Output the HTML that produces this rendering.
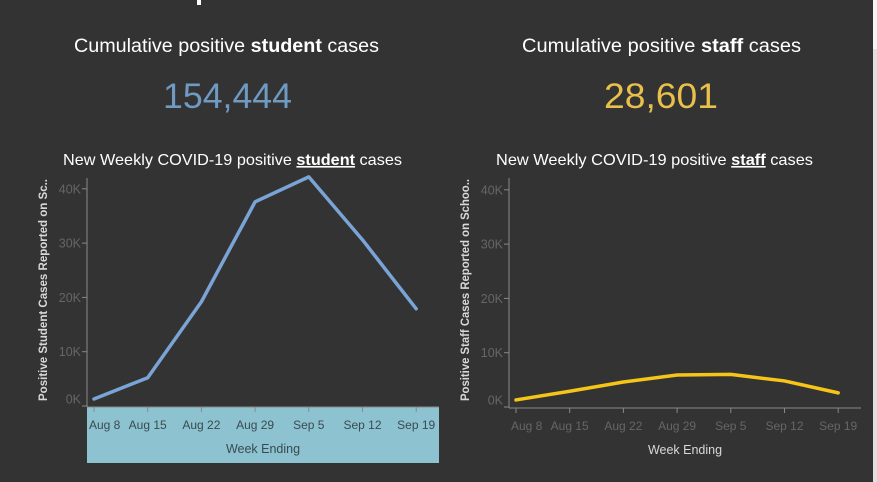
<!DOCTYPE html>
<html><head><meta charset="utf-8"><style>
html,body{margin:0;padding:0;background:#333333;}
svg{display:block;font-family:"Liberation Sans",sans-serif;}
</style></head><body>
<svg width="877" height="482" viewBox="0 0 877 482" xmlns="http://www.w3.org/2000/svg">
<rect x="0" y="0" width="877" height="482" fill="#333333"/>
<rect x="873" y="0" width="4" height="49" fill="#f5f5f5"/>
<rect x="873" y="49" width="4" height="433" fill="#e0e0e0"/>
<rect x="197" y="0" width="4" height="5" fill="#ffffff"/>
<text x="74" y="52" textLength="305" lengthAdjust="spacingAndGlyphs" font-size="19" fill="#ffffff">Cumulative positive <tspan font-weight="bold">student</tspan> cases</text>
<text x="163" y="108" textLength="129" lengthAdjust="spacingAndGlyphs" font-size="35" fill="#6f9ac2">154,444</text>
<text x="522" y="52" textLength="279" lengthAdjust="spacingAndGlyphs" font-size="19" fill="#ffffff">Cumulative positive <tspan font-weight="bold">staff</tspan> cases</text>
<text x="604" y="108" textLength="114" lengthAdjust="spacingAndGlyphs" font-size="35" fill="#e8c04a">28,601</text>
<text x="63" y="165" textLength="339" lengthAdjust="spacingAndGlyphs" font-size="16" fill="#ffffff">New Weekly COVID-19 positive <tspan text-decoration="underline" font-weight="bold">student</tspan> cases</text>
<text x="496" y="165" textLength="317" lengthAdjust="spacingAndGlyphs" font-size="16" fill="#ffffff">New Weekly COVID-19 positive <tspan text-decoration="underline" font-weight="bold">staff</tspan> cases</text>
<rect x="87" y="407" width="352" height="56" fill="#8dc3d0"/>
<g id="c1"></g>
<g id="c2"></g>
</svg>
<script>
const weeks = ["Aug 8","Aug 15","Aug 22","Aug 29","Sep 5","Sep 12","Sep 19"];
const studentCases = [1300, 5200, 19200, 37600, 42200, 30600, 17900];
const staffCases = [1300, 2900, 4600, 5900, 6000, 4800, 2600];
const yTicks = [0, 10000, 20000, 30000, 40000];
const yTickLabels = ["0K","10K","20K","30K","40K"];
const NS = "http://www.w3.org/2000/svg";
function mk(parent, tag, attrs){const e=document.createElementNS(NS,tag);for(const k in attrs)e.setAttribute(k,attrs[k]);parent.appendChild(e);return e;}
function drawChart(g, cfg){
  const x = i => cfg.x0 + i*cfg.dx;
  const y = v => cfg.yZero - v*cfg.ky;
  const ax = mk(g,'line',{x1:cfg.axX,y1:178,x2:cfg.axX,y2:cfg.base,stroke:'#888',"stroke-width":1});
  
  
  const bx = mk(g,'line',{x1:cfg.axX,y1:cfg.base,x2:cfg.axEnd,y2:cfg.base,stroke:'#888',"stroke-width":1});
  
  
  yTicks.forEach((t,i)=>{
    const yy = Math.min(y(t), cfg.base-1);
    const tk = mk(g,'line',{x1:cfg.axX-5,y1:yy,x2:cfg.axX,y2:yy,stroke:'#888'});
    
    
    const tl = mk(g,'text',{x:cfg.axX-6,y:(t===0?yy-7:yy)+4.5,"text-anchor":"end","font-size":12.5,fill:'#666666'});
    tl.textContent = yTickLabels[i];
    
    
  });
  weeks.forEach((w,i)=>{
    mk(g,'line',{x1:x(i),y1:cfg.base,x2:x(i),y2:cfg.base+5,stroke:'#888'});
    const first = i===0;
    const t = mk(g,'text',{x:first?cfg.axX+2:x(i),y:cfg.base+22,"text-anchor":first?"start":"middle","font-size":12,fill:cfg.tickCol});
    t.textContent = w;
    
    
  });
  const xt = mk(g,'text',{x:cfg.xtX,y:cfg.base+46,"text-anchor":"middle","font-size":12.5,fill:cfg.xtCol});
  xt.textContent = "Week Ending";
  
  
  const yt = mk(g,'text',{x:0,y:0,"text-anchor":"middle","font-size":11.5,"font-weight":"bold",fill:'#d8d8d8',transform:`translate(${cfg.ytX},290) rotate(-90)`,textLength:222,lengthAdjust:"spacingAndGlyphs"});
  yt.textContent = cfg.ytitle;
  
  
  const pts = cfg.data.map((v,i)=>x(i)+','+y(v)).join(' ');
  const pl = mk(g,'polyline',{points:pts,fill:'none',stroke:cfg.col,"stroke-width":3.5,"stroke-linejoin":"round","stroke-linecap":"round"});
  
  
}
drawChart(document.getElementById('c1'),{p:'student',x0:94,dx:53.7,yZero:406,ky:0.00543,axX:87,axEnd:439,base:407,data:studentCases,col:'#7aa3d6',tickCol:'#3a4a50',xtCol:'#3a4a50',xtX:263,ytX:47,ytitle:'Positive Student Cases Reported on Sc..'});
drawChart(document.getElementById('c2'),{p:'staff',x0:516,dx:53.7,yZero:407,ky:0.00543,axX:509,axEnd:861,base:408,data:staffCases,col:'#f5c518',tickCol:'#666666',xtCol:'#d8d8d8',xtX:685,ytX:469,ytitle:'Positive Staff Cases Reported on Schoo..'});
</script>
</body></html>
